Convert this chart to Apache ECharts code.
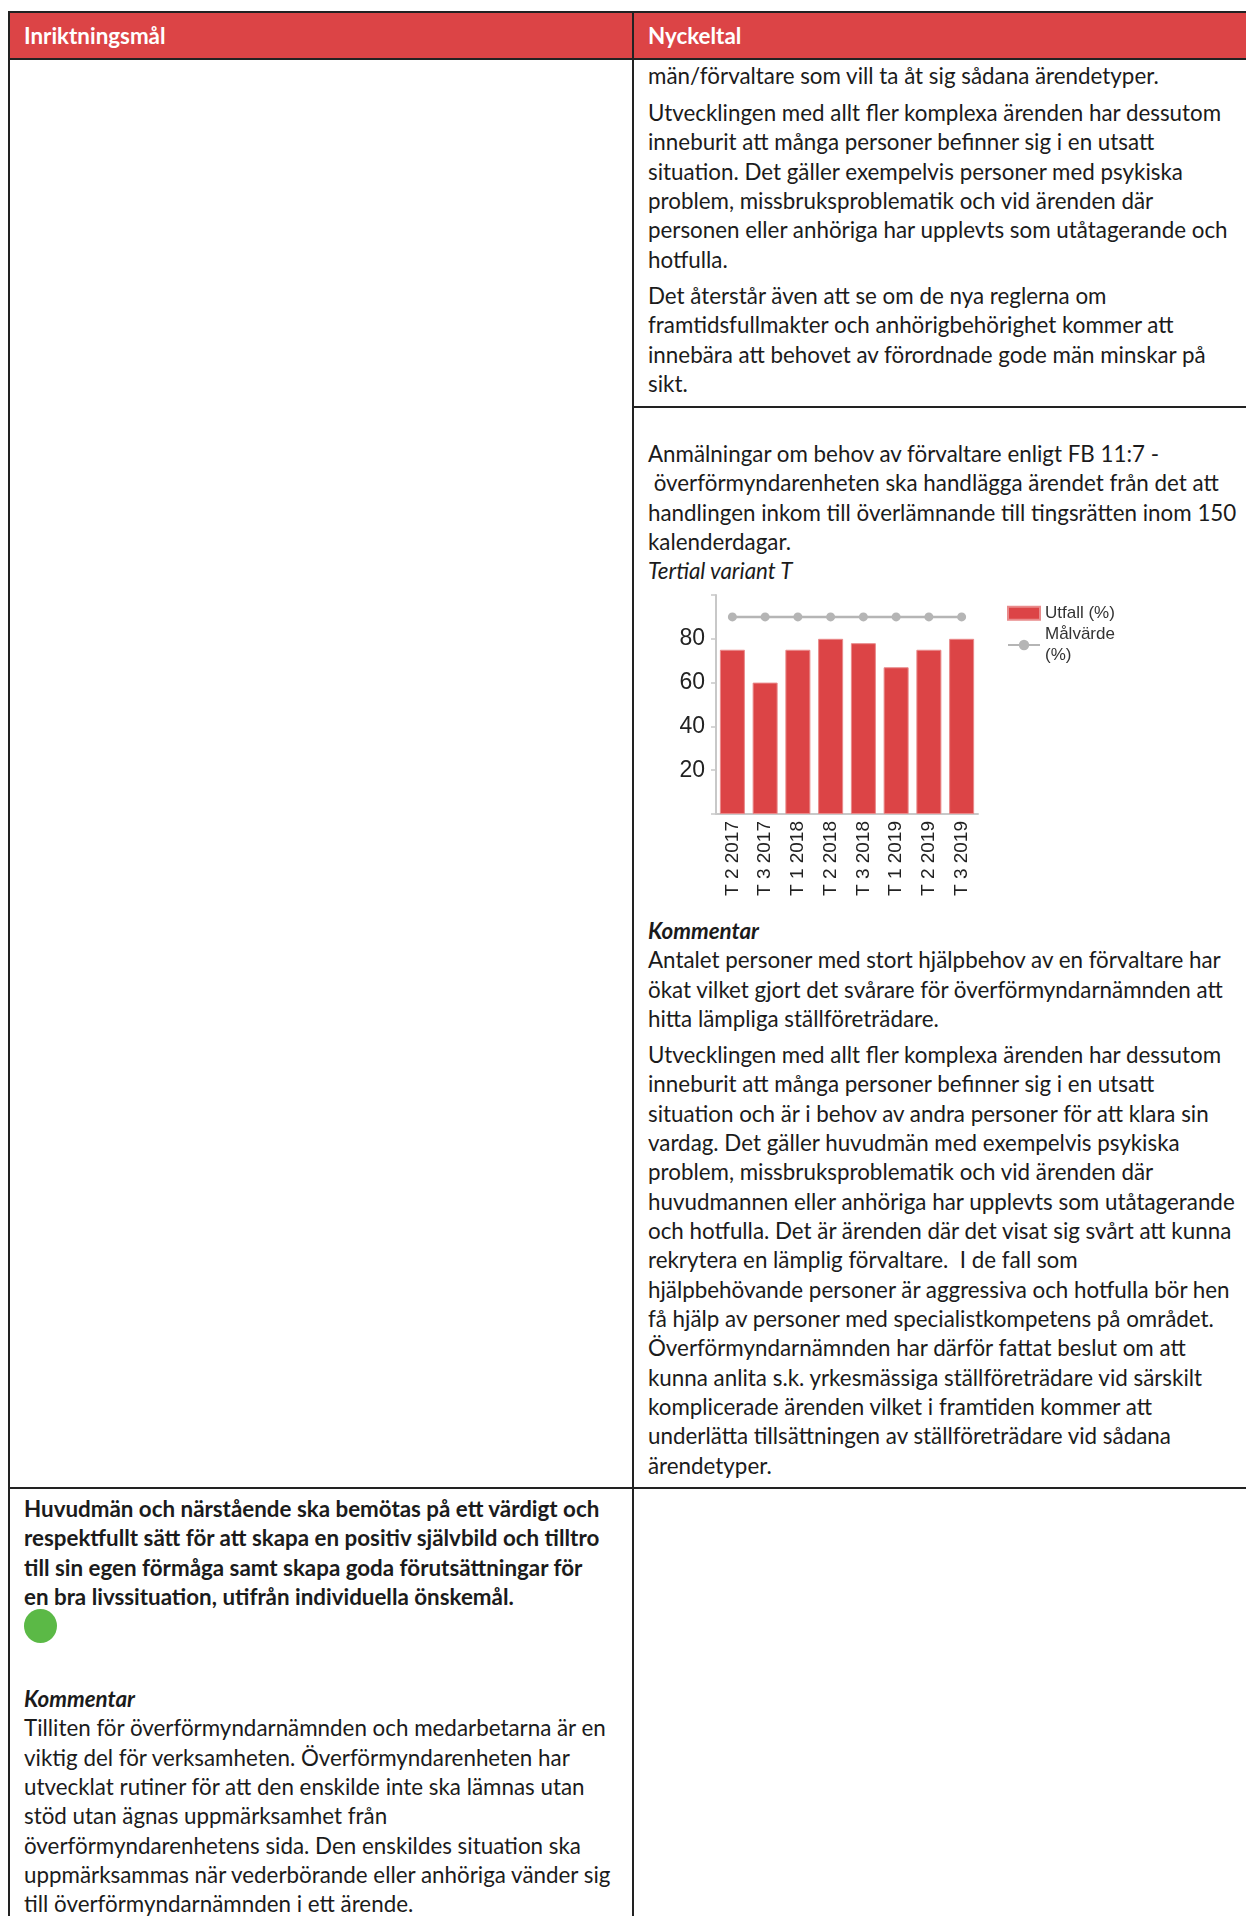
<!DOCTYPE html>
<html>
<head>
<meta charset="utf-8">
<script src="https://cdn.jsdelivr.net/npm/echarts@6/dist/echarts.min.js"></script>
<style>
  html, body { margin:0; padding:0; background:#fff; }
  body { width:1246px; height:1916px; position:relative; overflow:hidden; font-family: Lato, "Open Sans", sans-serif; color:#1b1b1b; }
  .ln { position:absolute; background:#222; }
  .blk { position:absolute; white-space:nowrap; line-height:29.35px; }
  .hdr { position:absolute; background:#DC4446; }
  .ht { position:absolute; color:#fff; font-weight:bold; white-space:nowrap; line-height:29.35px; }
  b { font-weight:bold; }
  #chart { position:absolute; left:640px; top:585px; width:520px; height:330px; }
  #dot { position:absolute; left:24px; top:1609px; width:33px; height:34px; border-radius:50%; background:#5BB946; }
</style>
</head>
<body>
<div class="hdr" style="left:8px; top:12px; width:1238px; height:47px;"></div>
<div class="ln" style="left:8px; top:11px; width:1238px; height:2px;"></div>
<div class="ln" style="left:8px; top:58px; width:1238px; height:2px;"></div>
<div class="ln" style="left:8px; top:11px; width:2px; height:1905px;"></div>
<div class="ln" style="left:632px; top:11px; width:2px; height:1905px;"></div>
<div class="ln" style="left:632px; top:406px; width:614px; height:2px;"></div>
<div class="ln" style="left:8px; top:1487px; width:1238px; height:2px;"></div>

<div class="ht" style="left:24px; top:20.5px;">Inriktningsmål</div>
<div class="ht" style="left:648px; top:20.5px;">Nyckeltal</div>

<div class="blk" style="left:648px; top:61px;">män/förvaltare som vill ta åt sig sådana ärendetyper.</div>
<div class="blk" style="left:648px; top:98px;">Utvecklingen med allt fler komplexa ärenden har dessutom<br>inneburit att många personer befinner sig i en utsatt<br>situation. Det gäller exempelvis personer med psykiska<br>problem, missbruksproblematik och vid ärenden där<br>personen eller anhöriga har upplevts som utåtagerande och<br>hotfulla.</div>
<div class="blk" style="left:648px; top:281px;">Det återstår även att se om de nya reglerna om<br>framtidsfullmakter och anhörigbehörighet kommer att<br>innebära att behovet av förordnade gode män minskar på<br>sikt.</div>
<div class="blk" style="left:648px; top:439px;">Anmälningar om behov av förvaltare enligt FB 11:7 -<br>&nbsp;överförmyndarenheten ska handlägga ärendet från det att<br>handlingen inkom till överlämnande till tingsrätten inom 150<br>kalenderdagar.<br><i>Tertial variant T</i></div>
<div class="blk" style="left:648px; top:916px;"><b><i>Kommentar</i></b><br>Antalet personer med stort hjälpbehov av en förvaltare har<br>ökat vilket gjort det svårare för överförmyndarnämnden att<br>hitta lämpliga ställföreträdare.</div>
<div class="blk" style="left:648px; top:1040px;">Utvecklingen med allt fler komplexa ärenden har dessutom<br>inneburit att många personer befinner sig i en utsatt<br>situation och är i behov av andra personer för att klara sin<br>vardag. Det gäller huvudmän med exempelvis psykiska<br>problem, missbruksproblematik och vid ärenden där<br>huvudmannen eller anhöriga har upplevts som utåtagerande<br>och hotfulla. Det är ärenden där det visat sig svårt att kunna<br>rekrytera en lämplig förvaltare.&nbsp; I de fall som<br>hjälpbehövande personer är aggressiva och hotfulla bör hen<br>få hjälp av personer med specialistkompetens på området.<br>Överförmyndarnämnden har därför fattat beslut om att<br>kunna anlita s.k. yrkesmässiga ställföreträdare vid särskilt<br>komplicerade ärenden vilket i framtiden kommer att<br>underlätta tillsättningen av ställföreträdare vid sådana<br>ärendetyper.</div>

<div class="blk" style="left:24px; top:1494px; font-weight:bold;">Huvudmän och närstående ska bemötas på ett värdigt och<br>respektfullt sätt för att skapa en positiv självbild och tilltro<br>till sin egen förmåga samt skapa goda förutsättningar för<br>en bra livssituation, utifrån individuella önskemål.</div>
<div id="dot"></div>
<div class="blk" style="left:24px; top:1684px;"><b><i>Kommentar</i></b><br>Tilliten för överförmyndarnämnden och medarbetarna är en<br>viktig del för verksamheten. Överförmyndarenheten har<br>utvecklat rutiner för att den enskilde inte ska lämnas utan<br>stöd utan ägnas uppmärksamhet från<br>överförmyndarenhetens sida. Den enskildes situation ska<br>uppmärksammas när vederbörande eller anhöriga vänder sig<br>till överförmyndarnämnden i ett ärende.</div>

<div id="chart"></div>

<script>
// ---- chart data ----
const categories = ['T 2 2017', 'T 3 2017', 'T 1 2018', 'T 2 2018', 'T 3 2018', 'T 1 2019', 'T 2 2019', 'T 3 2019'];
const utfall = [75, 60, 75, 80, 78, 67, 75, 80];
const malvarde = [90, 90, 90, 90, 90, 90, 90, 90];
const seriesNames = ['Utfall (%)', 'Målvärde (%)'];
const yTickLabels = [20, 40, 60, 80];

// ---- fit body font size so text width matches the document ----
(function fitFont() {
  const c = document.createElement('canvas').getContext('2d');
  c.font = '100px Lato';
  const w = c.measureText('Utvecklingen med allt fler komplexa ärenden har dessutom').width;
  const size = 100 * 574 / w;
  document.body.style.fontSize = size.toFixed(2) + 'px';
})();

const chart = echarts.init(document.getElementById('chart'), null, { renderer: 'canvas' });
chart.setOption({
  animation: false,
  textStyle: { fontFamily: '"Liberation Sans", Arial, sans-serif' },
  legend: {
    orient: 'vertical',
    left: 367,
    top: 18,
    padding: 0,
    itemWidth: 32,
    itemHeight: 13,
    itemGap: 1,
    textStyle: { fontSize: 17, color: '#333', lineHeight: 20.5 },
    formatter: function (n) { return n === seriesNames[1] ? 'Målvärde\n(%)' : n; },
    data: [
      { name: seriesNames[0], icon: 'rect' },
      { name: seriesNames[1] }
    ]
  },
  grid: { left: 76, top: 10, width: 262, height: 219 },
  xAxis: {
    type: 'category',
    data: categories,
    axisLine: { lineStyle: { color: '#c8c8c8', width: 2 } },
    axisTick: { show: false },
    axisLabel: { rotate: 90, fontSize: 19, color: '#222', margin: 7, interval: 0 }
  },
  yAxis: {
    type: 'value',
    min: 0,
    max: 100,
    interval: 20,
    axisLine: { show: true, lineStyle: { color: '#c8c8c8', width: 2 } },
    axisTick: { show: true, length: 5, lineStyle: { color: '#c8c8c8', width: 1.5 } },
    splitLine: { show: false },
    axisLabel: {
      fontSize: 23, color: '#222', margin: 11,
      formatter: function (v) { return yTickLabels.indexOf(v) >= 0 ? String(v) : ''; }
    }
  },
  series: [
    {
      name: seriesNames[0],
      type: 'bar',
      data: utfall,
      barWidth: 25,
      itemStyle: { color: '#DC4446', borderColor: '#e98a8b', borderWidth: 1 }
    },
    {
      name: seriesNames[1],
      type: 'line',
      data: malvarde,
      symbol: 'circle',
      symbolSize: 9,
      z: 5,
      lineStyle: { color: '#b5b5b5', width: 2.5 },
      itemStyle: { color: '#b5b5b5' }
    }
  ]
});
</script>
</body>
</html>
